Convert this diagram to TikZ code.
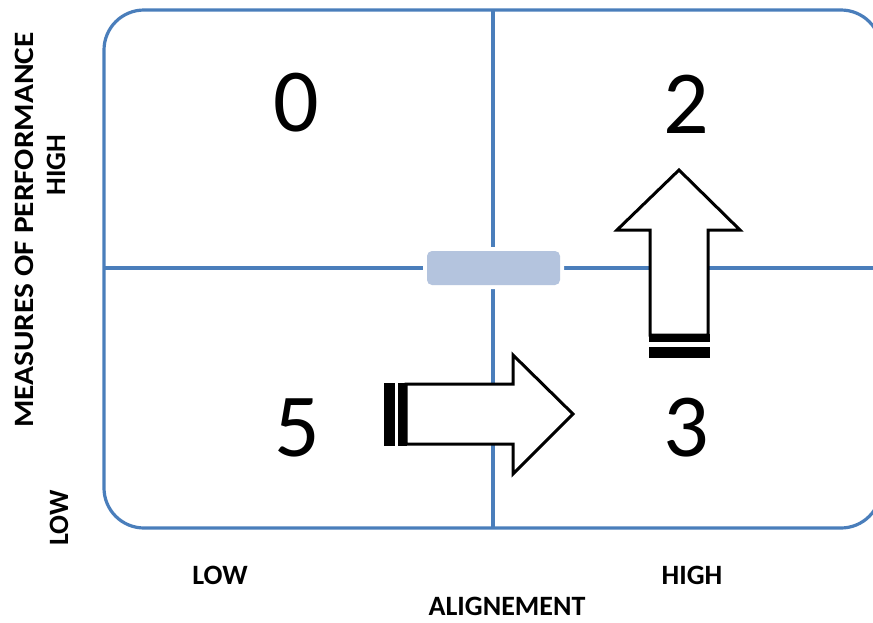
\documentclass[tikz,border=0pt]{standalone}
\usepackage{fontspec}
\setmainfont{Carlito}
\definecolor{gridblue}{HTML}{4A7EBB}
\definecolor{hubfill}{HTML}{B4C4DE}
\tikzset{
  grid line/.style={draw=gridblue, line width=3.2pt},
  axis label/.style={font=\fontsize{28}{28}\selectfont\bfseries, inner sep=0pt},
  score/.style={font=\fontsize{90}{90}\selectfont, inner sep=0pt},
  block arrow/.style={draw=black, fill=white, line width=3pt, line join=miter},
  stripe/.style={fill=black},
  hub/.style={preaction={draw=white, line width=8pt}, fill=hubfill,
    rounded corners=5pt, minimum width=133pt, minimum height=34pt, inner sep=0pt},
}
\begin{document}
\begin{tikzpicture}[x=1pt,y=-1pt]
\useasboundingbox (0,0) rectangle (873,622);

% quadrant frame and dividers (frame runs off the right edge)
\begin{scope}
  \clip (0,0) rectangle (873,622);
  \draw[grid line, rounded corners=40pt] (104,10) rectangle (881,528);
  \draw[grid line] (493,10) -- (493,528);
  \draw[grid line] (104,268) -- (881,268);
\end{scope}

% central marker
\node[hub] (hub) at (493.5,268) {};

% quadrant scores
\node[score] (q0) at (296,103) {0};
\node[score] (q2) at (686,104) {2};
\node[score] (q5) at (297,428) {5};
\node[score] (q3) at (686,428) {3};

% striped block arrow pointing right
\draw[block arrow] (406,384) -- (513,384) -- (513,355) -- (573,414)
  -- (513,474) -- (513,444) -- (406,444) -- cycle;
\fill[stripe] (384,382.5) rectangle (395,445.5);
\fill[stripe] (398,382.5) rectangle (407,445.5);

% striped block arrow pointing up
\draw[block arrow] (650,335) -- (650,230) -- (617,230) -- (679,170)
  -- (740,230) -- (708,230) -- (708,335) -- cycle;
\fill[stripe] (648.5,334) rectangle (709.5,342);
\fill[stripe] (648.5,347) rectangle (709.5,358);

% axis labels
\node[axis label, rotate=90] (ylab) at (24,230)
  {\scalebox{1.12}[1]{MEASURES OF PERFORMANCE}};
\node[axis label, rotate=90] (yhigh) at (56,165) {HIGH};
\node[axis label, rotate=90] (ylow) at (59,518) {LOW};
\node[axis label] (xlow) at (220,575) {LOW};
\node[axis label] (xhigh) at (692,575) {HIGH};
\node[axis label] (xlab) at (507,606) {ALIGNEMENT};
\end{tikzpicture}
\end{document}
